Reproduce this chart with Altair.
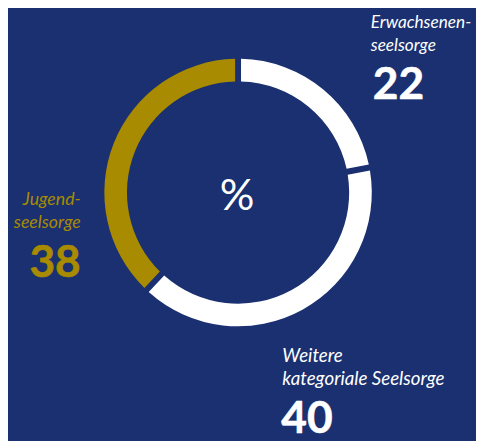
import altair as alt
import pandas as pd

categories = ["Erwachsenenseelsorge", "Weitere kategoriale Seelsorge", "Jugendseelsorge"]
values = [22, 40, 38]
order = [1, 2, 3]
colors = ["#ffffff", "#ffffff", "#a88b00"]
label_lines = [["Erwachsenen-", "seelsorge"], ["Weitere", "kategoriale Seelsorge"], ["Jugend-", "seelsorge"]]
center_text = "%"

BG = "#1a3070"
W, H = 476, 433
CX, CY = 234, 184

df = pd.DataFrame({"cat": categories, "val": values, "ord": order, "col": colors})

arc = alt.Chart(df).mark_arc(outerRadius=136, innerRadius=113, padAngle=0.034).encode(
    theta=alt.Theta("val:Q", stack=True),
    order=alt.Order("ord:Q"),
    color=alt.Color("col:N", scale=None),
    x=alt.value(CX),
    y=alt.value(CY),
)

def label_layer(i, x, y, align, col, size=18):
    d = pd.DataFrame({"t": [label_lines[i]]})
    return alt.Chart(d).mark_text(
        font="Lato", fontStyle="italic", fontSize=size, align=align, baseline="alphabetic",
        lineHeight=23.5, color=col,
    ).encode(text="t:N", x=alt.value(x), y=alt.value(y))

def number_layer(i, x, y, align, col):
    d = pd.DataFrame({"v": [values[i]]})
    return alt.Chart(d).mark_text(
        font="Lato", fontWeight="bold", fontSize=45, align=align, baseline="alphabetic",
        color=col, stroke=col, strokeWidth=0.6,
    ).encode(text="v:Q", x=alt.value(x), y=alt.value(y))

gold = colors[2]
layers = [
    arc,
    label_layer(0, 369, 17, "left", "white", 17.5),
    number_layer(0, 371, 89, "left", "white"),
    label_layer(1, 279, 356, "left", "white", 19),
    number_layer(1, 278, 429, "left", "white"),
    label_layer(2, 74, 197, "right", gold, 18),
    number_layer(2, 74, 270, "right", gold),
    alt.Chart(pd.DataFrame({"t": [center_text]})).mark_text(
        font="Lato", fontSize=44, align="center", baseline="alphabetic", color="white"
    ).encode(text="t:N", x=alt.value(CX - 1), y=alt.value(202)),
]

chart = alt.layer(*layers).properties(
    width=W, height=H, background=BG, padding=0,
    autosize=alt.AutoSizeParams(type="none"),
).configure_view(stroke=None)

chart.save("out.html", embed_options={"renderer": "svg", "actions": False})
